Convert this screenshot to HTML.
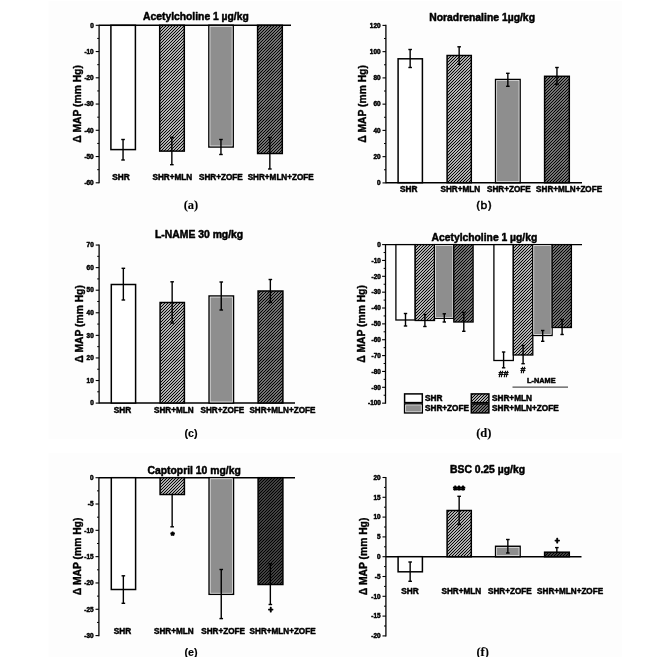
<!DOCTYPE html>
<html><head><meta charset="utf-8"><title>Figure</title>
<style>html,body{margin:0;padding:0;background:#fff}svg{display:block;filter:blur(0.33px)}</style>
</head><body>
<svg width="669" height="657" viewBox="0 0 669 657">
<defs>
<pattern id="h1" width="12" height="12" patternUnits="userSpaceOnUse"><rect width="12" height="12" fill="#ffffff"/><path d="M1.00 -1L-1 1.00M4.00 -1L-1 4.00M7.00 -1L-1 7.00M10.00 -1L-1 10.00M13.00 -1L-1 13.00M16.00 -1L-1 16.00M19.00 -1L-1 19.00M22.00 -1L-1 22.00M25.00 -1L-1 25.00" stroke="#000" stroke-width="1.2" fill="none"/></pattern>
<pattern id="h2" width="12" height="12" patternUnits="userSpaceOnUse"><rect width="12" height="12" fill="#a4a4a4"/><path d="M1.00 -1L-1 1.00M4.00 -1L-1 4.00M7.00 -1L-1 7.00M10.00 -1L-1 10.00M13.00 -1L-1 13.00M16.00 -1L-1 16.00M19.00 -1L-1 19.00M22.00 -1L-1 22.00M25.00 -1L-1 25.00" stroke="#000" stroke-width="1.22" fill="none"/></pattern>
<pattern id="h3" width="12" height="12" patternUnits="userSpaceOnUse"><rect width="12" height="12" fill="#5c5c5c"/><path d="M1.00 -1L-1 1.00M4.00 -1L-1 4.00M7.00 -1L-1 7.00M10.00 -1L-1 10.00M13.00 -1L-1 13.00M16.00 -1L-1 16.00M19.00 -1L-1 19.00M22.00 -1L-1 22.00M25.00 -1L-1 25.00" stroke="#000" stroke-width="1.22" fill="none"/></pattern>
</defs>
<rect width="669" height="657" fill="#fff"/>
<rect x="48.4" y="1" width="573.3" height="437.8" fill="#fdfdfd"/>
<rect x="48.4" y="453" width="573.3" height="204" fill="#fdfdfd"/>

<g id="pa">
<text x="195.9" y="20.2" font-size="10.35" text-anchor="middle" font-family="Liberation Sans, Arial, sans-serif" font-weight="bold" stroke="#000" stroke-linejoin="round" textLength="105.75" lengthAdjust="spacingAndGlyphs"  stroke-width="0.48">Acetylcholine 1 µg/kg</text>
<line x1="99.1" y1="24.740000000000002" x2="99.1" y2="183.36" stroke="#000" stroke-width="1.3"/>
<line x1="95.69999999999999" y1="25.3" x2="99.1" y2="25.3" stroke="#000" stroke-width="1.1"/>
<text x="93.7" y="27.55" font-size="6.4" text-anchor="end" font-family="Liberation Sans, Arial, sans-serif" font-weight="bold" stroke="#000" stroke-linejoin="round"  stroke-width="0.48">0</text>
<line x1="95.69999999999999" y1="51.55" x2="99.1" y2="51.55" stroke="#000" stroke-width="1.1"/>
<text x="93.7" y="53.8" font-size="6.4" text-anchor="end" font-family="Liberation Sans, Arial, sans-serif" font-weight="bold" stroke="#000" stroke-linejoin="round"  stroke-width="0.48">-10</text>
<line x1="95.69999999999999" y1="77.8" x2="99.1" y2="77.8" stroke="#000" stroke-width="1.1"/>
<text x="93.7" y="80.05" font-size="6.4" text-anchor="end" font-family="Liberation Sans, Arial, sans-serif" font-weight="bold" stroke="#000" stroke-linejoin="round"  stroke-width="0.48">-20</text>
<line x1="95.69999999999999" y1="104.05" x2="99.1" y2="104.05" stroke="#000" stroke-width="1.1"/>
<text x="93.7" y="106.3" font-size="6.4" text-anchor="end" font-family="Liberation Sans, Arial, sans-serif" font-weight="bold" stroke="#000" stroke-linejoin="round"  stroke-width="0.48">-30</text>
<line x1="95.69999999999999" y1="130.3" x2="99.1" y2="130.3" stroke="#000" stroke-width="1.1"/>
<text x="93.7" y="132.55" font-size="6.4" text-anchor="end" font-family="Liberation Sans, Arial, sans-serif" font-weight="bold" stroke="#000" stroke-linejoin="round"  stroke-width="0.48">-40</text>
<line x1="95.69999999999999" y1="156.55" x2="99.1" y2="156.55" stroke="#000" stroke-width="1.1"/>
<text x="93.7" y="158.8" font-size="6.4" text-anchor="end" font-family="Liberation Sans, Arial, sans-serif" font-weight="bold" stroke="#000" stroke-linejoin="round"  stroke-width="0.48">-50</text>
<line x1="95.69999999999999" y1="182.8" x2="99.1" y2="182.8" stroke="#000" stroke-width="1.1"/>
<text x="93.7" y="185.05" font-size="6.4" text-anchor="end" font-family="Liberation Sans, Arial, sans-serif" font-weight="bold" stroke="#000" stroke-linejoin="round"  stroke-width="0.48">-60</text>
<line x1="97.19999999999999" y1="38.425" x2="99.1" y2="38.425" stroke="#000" stroke-width="1.0"/>
<line x1="97.19999999999999" y1="64.675" x2="99.1" y2="64.675" stroke="#000" stroke-width="1.0"/>
<line x1="97.19999999999999" y1="90.925" x2="99.1" y2="90.925" stroke="#000" stroke-width="1.0"/>
<line x1="97.19999999999999" y1="117.175" x2="99.1" y2="117.175" stroke="#000" stroke-width="1.0"/>
<line x1="97.19999999999999" y1="143.425" x2="99.1" y2="143.425" stroke="#000" stroke-width="1.0"/>
<line x1="97.19999999999999" y1="169.675" x2="99.1" y2="169.675" stroke="#000" stroke-width="1.0"/>
<line x1="99.1" y1="25.3" x2="291" y2="25.3" stroke="#000" stroke-width="1.4"/>
<rect x="110.90" y="25.3" width="24.50" height="124.30" fill="#fff" stroke="#000" stroke-width="1.5"/>
<line x1="123.05" y1="139.5" x2="123.05" y2="160.0" stroke="#000" stroke-width="1.4"/>
<line x1="121.25" y1="139.5" x2="124.85" y2="139.5" stroke="#000" stroke-width="1.4"/>
<line x1="121.25" y1="160.0" x2="124.85" y2="160.0" stroke="#000" stroke-width="1.4"/>
<rect x="159.70" y="25.3" width="24.60" height="125.80" fill="url(#h1)" stroke="#000" stroke-width="1.5"/>
<line x1="171.85" y1="137.3" x2="171.85" y2="164.7" stroke="#000" stroke-width="1.4"/>
<line x1="170.04999999999998" y1="137.3" x2="173.65" y2="137.3" stroke="#000" stroke-width="1.4"/>
<line x1="170.04999999999998" y1="164.7" x2="173.65" y2="164.7" stroke="#000" stroke-width="1.4"/>
<rect x="208.90" y="25.3" width="24.30" height="121.70" fill="#8e8e8e" stroke="#000" stroke-width="1.5"/>
<rect x="209.95" y="26.35" width="22.20" height="119.60" fill="none" stroke="#ececec" stroke-width="0.75"/>
<line x1="220.95" y1="139.5" x2="220.95" y2="154.5" stroke="#000" stroke-width="1.4"/>
<line x1="219.14999999999998" y1="139.5" x2="222.75" y2="139.5" stroke="#000" stroke-width="1.4"/>
<line x1="219.14999999999998" y1="154.5" x2="222.75" y2="154.5" stroke="#000" stroke-width="1.4"/>
<rect x="257.60" y="25.3" width="24.70" height="128.20" fill="url(#h2)" stroke="#000" stroke-width="1.5"/>
<line x1="269.85" y1="137.5" x2="269.85" y2="169.0" stroke="#000" stroke-width="1.4"/>
<line x1="268.05" y1="137.5" x2="271.65000000000003" y2="137.5" stroke="#000" stroke-width="1.4"/>
<line x1="268.05" y1="169.0" x2="271.65000000000003" y2="169.0" stroke="#000" stroke-width="1.4"/>
<text x="120.9" y="180.1" font-size="8.15" text-anchor="middle" font-family="Liberation Sans, Arial, sans-serif" font-weight="bold" stroke="#000" stroke-linejoin="round" textLength="17.5" lengthAdjust="spacingAndGlyphs"  stroke-width="0.48">SHR</text>
<text x="172.3" y="180.1" font-size="8.15" text-anchor="middle" font-family="Liberation Sans, Arial, sans-serif" font-weight="bold" stroke="#000" stroke-linejoin="round" textLength="39.75" lengthAdjust="spacingAndGlyphs"  stroke-width="0.48">SHR+MLN</text>
<text x="220.9" y="180.1" font-size="8.15" text-anchor="middle" font-family="Liberation Sans, Arial, sans-serif" font-weight="bold" stroke="#000" stroke-linejoin="round" textLength="43.75" lengthAdjust="spacingAndGlyphs"  stroke-width="0.48">SHR+ZOFE</text>
<text x="280.7" y="180.1" font-size="8.15" text-anchor="middle" font-family="Liberation Sans, Arial, sans-serif" font-weight="bold" stroke="#000" stroke-linejoin="round" textLength="66" lengthAdjust="spacingAndGlyphs"  stroke-width="0.48">SHR+MLN+ZOFE</text>
<text transform="translate(81.0,104.0) rotate(-90)" x="0" y="0" font-size="10.2" text-anchor="middle" font-family="Liberation Sans, Arial, sans-serif" font-weight="bold" stroke="#000" stroke-linejoin="round" stroke-width="0.38" textLength="77.7" lengthAdjust="spacingAndGlyphs">Δ MAP (mm Hg)</text>
<text x="191" y="208.5" font-size="12.5" text-anchor="middle" font-family="Liberation Serif, Times New Roman, serif" font-weight="bold" stroke="#000" stroke-width="0.1" >(a)</text>
</g>
<g id="pb">
<text x="482.1" y="20.6" font-size="10.35" text-anchor="middle" font-family="Liberation Sans, Arial, sans-serif" font-weight="bold" stroke="#000" stroke-linejoin="round" textLength="105.75" lengthAdjust="spacingAndGlyphs"  stroke-width="0.48">Noradrenaline 1µg/kg</text>
<line x1="385.9" y1="24.840000000000007" x2="385.9" y2="183.26" stroke="#000" stroke-width="1.3"/>
<line x1="382.5" y1="182.9" x2="385.9" y2="182.9" stroke="#000" stroke-width="1.1"/>
<text x="380.5" y="185.15" font-size="6.4" text-anchor="end" font-family="Liberation Sans, Arial, sans-serif" font-weight="bold" stroke="#000" stroke-linejoin="round"  stroke-width="0.48">0</text>
<line x1="382.5" y1="156.65" x2="385.9" y2="156.65" stroke="#000" stroke-width="1.1"/>
<text x="380.5" y="158.9" font-size="6.4" text-anchor="end" font-family="Liberation Sans, Arial, sans-serif" font-weight="bold" stroke="#000" stroke-linejoin="round"  stroke-width="0.48">20</text>
<line x1="382.5" y1="130.4" x2="385.9" y2="130.4" stroke="#000" stroke-width="1.1"/>
<text x="380.5" y="132.65" font-size="6.4" text-anchor="end" font-family="Liberation Sans, Arial, sans-serif" font-weight="bold" stroke="#000" stroke-linejoin="round"  stroke-width="0.48">40</text>
<line x1="382.5" y1="104.15" x2="385.9" y2="104.15" stroke="#000" stroke-width="1.1"/>
<text x="380.5" y="106.4" font-size="6.4" text-anchor="end" font-family="Liberation Sans, Arial, sans-serif" font-weight="bold" stroke="#000" stroke-linejoin="round"  stroke-width="0.48">60</text>
<line x1="382.5" y1="77.9" x2="385.9" y2="77.9" stroke="#000" stroke-width="1.1"/>
<text x="380.5" y="80.15" font-size="6.4" text-anchor="end" font-family="Liberation Sans, Arial, sans-serif" font-weight="bold" stroke="#000" stroke-linejoin="round"  stroke-width="0.48">80</text>
<line x1="382.5" y1="51.650000000000006" x2="385.9" y2="51.650000000000006" stroke="#000" stroke-width="1.1"/>
<text x="380.5" y="53.9" font-size="6.4" text-anchor="end" font-family="Liberation Sans, Arial, sans-serif" font-weight="bold" stroke="#000" stroke-linejoin="round"  stroke-width="0.48">100</text>
<line x1="382.5" y1="25.400000000000006" x2="385.9" y2="25.400000000000006" stroke="#000" stroke-width="1.1"/>
<text x="380.5" y="27.65" font-size="6.4" text-anchor="end" font-family="Liberation Sans, Arial, sans-serif" font-weight="bold" stroke="#000" stroke-linejoin="round"  stroke-width="0.48">120</text>
<line x1="384.0" y1="169.775" x2="385.9" y2="169.775" stroke="#000" stroke-width="1.0"/>
<line x1="384.0" y1="143.525" x2="385.9" y2="143.525" stroke="#000" stroke-width="1.0"/>
<line x1="384.0" y1="117.275" x2="385.9" y2="117.275" stroke="#000" stroke-width="1.0"/>
<line x1="384.0" y1="91.025" x2="385.9" y2="91.025" stroke="#000" stroke-width="1.0"/>
<line x1="384.0" y1="64.775" x2="385.9" y2="64.775" stroke="#000" stroke-width="1.0"/>
<line x1="384.0" y1="38.525000000000006" x2="385.9" y2="38.525000000000006" stroke="#000" stroke-width="1.0"/>
<line x1="385.9" y1="182.7" x2="582" y2="182.7" stroke="#000" stroke-width="1.4"/>
<rect x="398.10" y="58.8" width="24.30" height="123.90" fill="#fff" stroke="#000" stroke-width="1.5"/>
<line x1="410.15" y1="49.5" x2="410.15" y2="67.5" stroke="#000" stroke-width="1.4"/>
<line x1="408.34999999999997" y1="49.5" x2="411.95" y2="49.5" stroke="#000" stroke-width="1.4"/>
<line x1="408.34999999999997" y1="67.5" x2="411.95" y2="67.5" stroke="#000" stroke-width="1.4"/>
<rect x="447.10" y="55.5" width="24.20" height="127.20" fill="url(#h1)" stroke="#000" stroke-width="1.5"/>
<line x1="459.15" y1="46.8" x2="459.15" y2="64.3" stroke="#000" stroke-width="1.4"/>
<line x1="457.34999999999997" y1="46.8" x2="460.95" y2="46.8" stroke="#000" stroke-width="1.4"/>
<line x1="457.34999999999997" y1="64.3" x2="460.95" y2="64.3" stroke="#000" stroke-width="1.4"/>
<rect x="495.60" y="79.5" width="24.50" height="103.20" fill="#8e8e8e" stroke="#000" stroke-width="1.5"/>
<rect x="496.65" y="80.55" width="22.40" height="101.10" fill="none" stroke="#ececec" stroke-width="0.75"/>
<line x1="507.85" y1="73.3" x2="507.85" y2="86.3" stroke="#000" stroke-width="1.4"/>
<line x1="506.05" y1="73.3" x2="509.65000000000003" y2="73.3" stroke="#000" stroke-width="1.4"/>
<line x1="506.05" y1="86.3" x2="509.65000000000003" y2="86.3" stroke="#000" stroke-width="1.4"/>
<rect x="544.60" y="76.3" width="24.70" height="106.40" fill="url(#h2)" stroke="#000" stroke-width="1.5"/>
<line x1="556.95" y1="67.5" x2="556.95" y2="84.5" stroke="#000" stroke-width="1.4"/>
<line x1="555.1500000000001" y1="67.5" x2="558.75" y2="67.5" stroke="#000" stroke-width="1.4"/>
<line x1="555.1500000000001" y1="84.5" x2="558.75" y2="84.5" stroke="#000" stroke-width="1.4"/>
<text x="408.8" y="192.2" font-size="8.15" text-anchor="middle" font-family="Liberation Sans, Arial, sans-serif" font-weight="bold" stroke="#000" stroke-linejoin="round" textLength="17.5" lengthAdjust="spacingAndGlyphs"  stroke-width="0.48">SHR</text>
<text x="460.3" y="192.2" font-size="8.15" text-anchor="middle" font-family="Liberation Sans, Arial, sans-serif" font-weight="bold" stroke="#000" stroke-linejoin="round" textLength="39.75" lengthAdjust="spacingAndGlyphs"  stroke-width="0.48">SHR+MLN</text>
<text x="508.9" y="192.2" font-size="8.15" text-anchor="middle" font-family="Liberation Sans, Arial, sans-serif" font-weight="bold" stroke="#000" stroke-linejoin="round" textLength="43.75" lengthAdjust="spacingAndGlyphs"  stroke-width="0.48">SHR+ZOFE</text>
<text x="569.1" y="192.2" font-size="8.15" text-anchor="middle" font-family="Liberation Sans, Arial, sans-serif" font-weight="bold" stroke="#000" stroke-linejoin="round" textLength="66" lengthAdjust="spacingAndGlyphs"  stroke-width="0.48">SHR+MLN+ZOFE</text>
<text transform="translate(366.0,104.0) rotate(-90)" x="0" y="0" font-size="10.2" text-anchor="middle" font-family="Liberation Sans, Arial, sans-serif" font-weight="bold" stroke="#000" stroke-linejoin="round" stroke-width="0.38" textLength="77.7" lengthAdjust="spacingAndGlyphs">Δ MAP (mm Hg)</text>
<text x="483.9" y="208.6" font-size="11.3" text-anchor="middle" font-family="DejaVu Sans, Verdana, sans-serif" stroke="#000" stroke-width="0.5" >(b)</text>
</g>
<g id="pc">
<text x="199.1" y="238.4" font-size="10.35" text-anchor="middle" font-family="Liberation Sans, Arial, sans-serif" font-weight="bold" stroke="#000" stroke-linejoin="round" textLength="88.25" lengthAdjust="spacingAndGlyphs"  stroke-width="0.48">L-NAME 30 mg/kg</text>
<line x1="99.1" y1="244.48000000000002" x2="99.1" y2="403.56" stroke="#000" stroke-width="1.3"/>
<line x1="95.69999999999999" y1="403.1" x2="99.1" y2="403.1" stroke="#000" stroke-width="1.1"/>
<text x="93.7" y="405.35" font-size="6.4" text-anchor="end" font-family="Liberation Sans, Arial, sans-serif" font-weight="bold" stroke="#000" stroke-linejoin="round"  stroke-width="0.48">0</text>
<line x1="95.69999999999999" y1="380.52000000000004" x2="99.1" y2="380.52000000000004" stroke="#000" stroke-width="1.1"/>
<text x="93.7" y="382.77" font-size="6.4" text-anchor="end" font-family="Liberation Sans, Arial, sans-serif" font-weight="bold" stroke="#000" stroke-linejoin="round"  stroke-width="0.48">10</text>
<line x1="95.69999999999999" y1="357.94000000000005" x2="99.1" y2="357.94000000000005" stroke="#000" stroke-width="1.1"/>
<text x="93.7" y="360.19" font-size="6.4" text-anchor="end" font-family="Liberation Sans, Arial, sans-serif" font-weight="bold" stroke="#000" stroke-linejoin="round"  stroke-width="0.48">20</text>
<line x1="95.69999999999999" y1="335.36" x2="99.1" y2="335.36" stroke="#000" stroke-width="1.1"/>
<text x="93.7" y="337.61" font-size="6.4" text-anchor="end" font-family="Liberation Sans, Arial, sans-serif" font-weight="bold" stroke="#000" stroke-linejoin="round"  stroke-width="0.48">30</text>
<line x1="95.69999999999999" y1="312.78000000000003" x2="99.1" y2="312.78000000000003" stroke="#000" stroke-width="1.1"/>
<text x="93.7" y="315.03" font-size="6.4" text-anchor="end" font-family="Liberation Sans, Arial, sans-serif" font-weight="bold" stroke="#000" stroke-linejoin="round"  stroke-width="0.48">40</text>
<line x1="95.69999999999999" y1="290.20000000000005" x2="99.1" y2="290.20000000000005" stroke="#000" stroke-width="1.1"/>
<text x="93.7" y="292.45" font-size="6.4" text-anchor="end" font-family="Liberation Sans, Arial, sans-serif" font-weight="bold" stroke="#000" stroke-linejoin="round"  stroke-width="0.48">50</text>
<line x1="95.69999999999999" y1="267.62" x2="99.1" y2="267.62" stroke="#000" stroke-width="1.1"/>
<text x="93.7" y="269.87" font-size="6.4" text-anchor="end" font-family="Liberation Sans, Arial, sans-serif" font-weight="bold" stroke="#000" stroke-linejoin="round"  stroke-width="0.48">60</text>
<line x1="95.69999999999999" y1="245.04000000000002" x2="99.1" y2="245.04000000000002" stroke="#000" stroke-width="1.1"/>
<text x="93.7" y="247.29" font-size="6.4" text-anchor="end" font-family="Liberation Sans, Arial, sans-serif" font-weight="bold" stroke="#000" stroke-linejoin="round"  stroke-width="0.48">70</text>
<line x1="97.19999999999999" y1="391.81" x2="99.1" y2="391.81" stroke="#000" stroke-width="1.0"/>
<line x1="97.19999999999999" y1="369.23" x2="99.1" y2="369.23" stroke="#000" stroke-width="1.0"/>
<line x1="97.19999999999999" y1="346.65000000000003" x2="99.1" y2="346.65000000000003" stroke="#000" stroke-width="1.0"/>
<line x1="97.19999999999999" y1="324.07000000000005" x2="99.1" y2="324.07000000000005" stroke="#000" stroke-width="1.0"/>
<line x1="97.19999999999999" y1="301.49" x2="99.1" y2="301.49" stroke="#000" stroke-width="1.0"/>
<line x1="97.19999999999999" y1="278.91" x2="99.1" y2="278.91" stroke="#000" stroke-width="1.0"/>
<line x1="97.19999999999999" y1="256.33000000000004" x2="99.1" y2="256.33000000000004" stroke="#000" stroke-width="1.0"/>
<line x1="99.1" y1="403.0" x2="295" y2="403.0" stroke="#000" stroke-width="1.4"/>
<rect x="111.30" y="284.5" width="24.30" height="118.50" fill="#fff" stroke="#000" stroke-width="1.5"/>
<line x1="123.35" y1="268.3" x2="123.35" y2="300.0" stroke="#000" stroke-width="1.4"/>
<line x1="121.55" y1="268.3" x2="125.14999999999999" y2="268.3" stroke="#000" stroke-width="1.4"/>
<line x1="121.55" y1="300.0" x2="125.14999999999999" y2="300.0" stroke="#000" stroke-width="1.4"/>
<rect x="160.10" y="302.5" width="24.30" height="100.50" fill="url(#h1)" stroke="#000" stroke-width="1.5"/>
<line x1="172.15" y1="281.8" x2="172.15" y2="323.0" stroke="#000" stroke-width="1.4"/>
<line x1="170.35" y1="281.8" x2="173.95000000000002" y2="281.8" stroke="#000" stroke-width="1.4"/>
<line x1="170.35" y1="323.0" x2="173.95000000000002" y2="323.0" stroke="#000" stroke-width="1.4"/>
<rect x="209.10" y="296.0" width="24.40" height="107.00" fill="#8e8e8e" stroke="#000" stroke-width="1.5"/>
<rect x="210.15" y="297.05" width="22.30" height="104.90" fill="none" stroke="#ececec" stroke-width="0.75"/>
<line x1="221.25" y1="282.0" x2="221.25" y2="310.0" stroke="#000" stroke-width="1.4"/>
<line x1="219.45" y1="282.0" x2="223.05" y2="282.0" stroke="#000" stroke-width="1.4"/>
<line x1="219.45" y1="310.0" x2="223.05" y2="310.0" stroke="#000" stroke-width="1.4"/>
<rect x="258.10" y="291.0" width="24.80" height="112.00" fill="url(#h2)" stroke="#000" stroke-width="1.5"/>
<line x1="270.35" y1="279.5" x2="270.35" y2="302.5" stroke="#000" stroke-width="1.4"/>
<line x1="268.55" y1="279.5" x2="272.15000000000003" y2="279.5" stroke="#000" stroke-width="1.4"/>
<line x1="268.55" y1="302.5" x2="272.15000000000003" y2="302.5" stroke="#000" stroke-width="1.4"/>
<text x="122.5" y="412.6" font-size="8.15" text-anchor="middle" font-family="Liberation Sans, Arial, sans-serif" font-weight="bold" stroke="#000" stroke-linejoin="round" textLength="17.5" lengthAdjust="spacingAndGlyphs"  stroke-width="0.48">SHR</text>
<text x="173.8" y="412.6" font-size="8.15" text-anchor="middle" font-family="Liberation Sans, Arial, sans-serif" font-weight="bold" stroke="#000" stroke-linejoin="round" textLength="39.75" lengthAdjust="spacingAndGlyphs"  stroke-width="0.48">SHR+MLN</text>
<text x="222.4" y="412.6" font-size="8.15" text-anchor="middle" font-family="Liberation Sans, Arial, sans-serif" font-weight="bold" stroke="#000" stroke-linejoin="round" textLength="43.75" lengthAdjust="spacingAndGlyphs"  stroke-width="0.48">SHR+ZOFE</text>
<text x="282.4" y="412.6" font-size="8.15" text-anchor="middle" font-family="Liberation Sans, Arial, sans-serif" font-weight="bold" stroke="#000" stroke-linejoin="round" textLength="66" lengthAdjust="spacingAndGlyphs"  stroke-width="0.48">SHR+MLN+ZOFE</text>
<text transform="translate(82.6,324.0) rotate(-90)" x="0" y="0" font-size="10.2" text-anchor="middle" font-family="Liberation Sans, Arial, sans-serif" font-weight="bold" stroke="#000" stroke-linejoin="round" stroke-width="0.38" textLength="77.7" lengthAdjust="spacingAndGlyphs">Δ MAP (mm Hg)</text>
<text x="191.0" y="436.8" font-size="10.8" text-anchor="middle" font-family="Liberation Sans, Arial, sans-serif" font-weight="bold" stroke="#000" stroke-linejoin="round"  stroke-width="0.12">(c)</text>
</g>
<g id="pd">
<text x="484.4" y="241.3" font-size="10.35" text-anchor="middle" font-family="Liberation Sans, Arial, sans-serif" font-weight="bold" stroke="#000" stroke-linejoin="round" textLength="105.75" lengthAdjust="spacingAndGlyphs"  stroke-width="0.48">Acetylcholine 1 µg/kg</text>
<line x1="385.5" y1="244.04" x2="385.5" y2="403.71" stroke="#000" stroke-width="1.3"/>
<line x1="382.1" y1="244.6" x2="385.5" y2="244.6" stroke="#000" stroke-width="1.1"/>
<text x="380.8" y="246.85" font-size="6.4" text-anchor="end" font-family="Liberation Sans, Arial, sans-serif" font-weight="bold" stroke="#000" stroke-linejoin="round"  stroke-width="0.48">0</text>
<line x1="382.1" y1="260.455" x2="385.5" y2="260.455" stroke="#000" stroke-width="1.1"/>
<text x="380.8" y="262.7" font-size="6.4" text-anchor="end" font-family="Liberation Sans, Arial, sans-serif" font-weight="bold" stroke="#000" stroke-linejoin="round"  stroke-width="0.48">-10</text>
<line x1="382.1" y1="276.31" x2="385.5" y2="276.31" stroke="#000" stroke-width="1.1"/>
<text x="380.8" y="278.56" font-size="6.4" text-anchor="end" font-family="Liberation Sans, Arial, sans-serif" font-weight="bold" stroke="#000" stroke-linejoin="round"  stroke-width="0.48">-20</text>
<line x1="382.1" y1="292.16499999999996" x2="385.5" y2="292.16499999999996" stroke="#000" stroke-width="1.1"/>
<text x="380.8" y="294.41" font-size="6.4" text-anchor="end" font-family="Liberation Sans, Arial, sans-serif" font-weight="bold" stroke="#000" stroke-linejoin="round"  stroke-width="0.48">-30</text>
<line x1="382.1" y1="308.02" x2="385.5" y2="308.02" stroke="#000" stroke-width="1.1"/>
<text x="380.8" y="310.27" font-size="6.4" text-anchor="end" font-family="Liberation Sans, Arial, sans-serif" font-weight="bold" stroke="#000" stroke-linejoin="round"  stroke-width="0.48">-40</text>
<line x1="382.1" y1="323.875" x2="385.5" y2="323.875" stroke="#000" stroke-width="1.1"/>
<text x="380.8" y="326.12" font-size="6.4" text-anchor="end" font-family="Liberation Sans, Arial, sans-serif" font-weight="bold" stroke="#000" stroke-linejoin="round"  stroke-width="0.48">-50</text>
<line x1="382.1" y1="339.73" x2="385.5" y2="339.73" stroke="#000" stroke-width="1.1"/>
<text x="380.8" y="341.98" font-size="6.4" text-anchor="end" font-family="Liberation Sans, Arial, sans-serif" font-weight="bold" stroke="#000" stroke-linejoin="round"  stroke-width="0.48">-60</text>
<line x1="382.1" y1="355.585" x2="385.5" y2="355.585" stroke="#000" stroke-width="1.1"/>
<text x="380.8" y="357.83" font-size="6.4" text-anchor="end" font-family="Liberation Sans, Arial, sans-serif" font-weight="bold" stroke="#000" stroke-linejoin="round"  stroke-width="0.48">-70</text>
<line x1="382.1" y1="371.44" x2="385.5" y2="371.44" stroke="#000" stroke-width="1.1"/>
<text x="380.8" y="373.69" font-size="6.4" text-anchor="end" font-family="Liberation Sans, Arial, sans-serif" font-weight="bold" stroke="#000" stroke-linejoin="round"  stroke-width="0.48">-80</text>
<line x1="382.1" y1="387.29499999999996" x2="385.5" y2="387.29499999999996" stroke="#000" stroke-width="1.1"/>
<text x="380.8" y="389.54" font-size="6.4" text-anchor="end" font-family="Liberation Sans, Arial, sans-serif" font-weight="bold" stroke="#000" stroke-linejoin="round"  stroke-width="0.48">-90</text>
<line x1="382.1" y1="403.15" x2="385.5" y2="403.15" stroke="#000" stroke-width="1.1"/>
<text x="380.8" y="405.4" font-size="6.4" text-anchor="end" font-family="Liberation Sans, Arial, sans-serif" font-weight="bold" stroke="#000" stroke-linejoin="round"  stroke-width="0.48">-100</text>
<line x1="383.6" y1="252.5275" x2="385.5" y2="252.5275" stroke="#000" stroke-width="1.0"/>
<line x1="383.6" y1="268.3825" x2="385.5" y2="268.3825" stroke="#000" stroke-width="1.0"/>
<line x1="383.6" y1="284.2375" x2="385.5" y2="284.2375" stroke="#000" stroke-width="1.0"/>
<line x1="383.6" y1="300.0925" x2="385.5" y2="300.0925" stroke="#000" stroke-width="1.0"/>
<line x1="383.6" y1="315.9475" x2="385.5" y2="315.9475" stroke="#000" stroke-width="1.0"/>
<line x1="383.6" y1="331.8025" x2="385.5" y2="331.8025" stroke="#000" stroke-width="1.0"/>
<line x1="383.6" y1="347.65749999999997" x2="385.5" y2="347.65749999999997" stroke="#000" stroke-width="1.0"/>
<line x1="383.6" y1="363.5125" x2="385.5" y2="363.5125" stroke="#000" stroke-width="1.0"/>
<line x1="383.6" y1="379.36749999999995" x2="385.5" y2="379.36749999999995" stroke="#000" stroke-width="1.0"/>
<line x1="383.6" y1="395.22249999999997" x2="385.5" y2="395.22249999999997" stroke="#000" stroke-width="1.0"/>
<line x1="385.5" y1="244.6" x2="582" y2="244.6" stroke="#000" stroke-width="1.4"/>
<rect x="395.90" y="244.6" width="19.30" height="75.40" fill="#fff" stroke="#000" stroke-width="1.3"/>
<line x1="405.5" y1="313.5" x2="405.5" y2="326.0" stroke="#000" stroke-width="1.4"/>
<line x1="403.8" y1="313.5" x2="407.2" y2="313.5" stroke="#000" stroke-width="1.4"/>
<line x1="403.8" y1="326.0" x2="407.2" y2="326.0" stroke="#000" stroke-width="1.4"/>
<rect x="415.20" y="244.6" width="19.30" height="75.90" fill="url(#h1)" stroke="#000" stroke-width="1.3"/>
<line x1="424.9" y1="314.5" x2="424.9" y2="326.5" stroke="#000" stroke-width="1.4"/>
<line x1="423.2" y1="314.5" x2="426.59999999999997" y2="314.5" stroke="#000" stroke-width="1.4"/>
<line x1="423.2" y1="326.5" x2="426.59999999999997" y2="326.5" stroke="#000" stroke-width="1.4"/>
<rect x="434.50" y="244.6" width="19.30" height="73.70" fill="#8e8e8e" stroke="#000" stroke-width="1.3"/>
<rect x="435.45" y="245.55" width="17.40" height="71.80" fill="none" stroke="#ececec" stroke-width="0.75"/>
<line x1="444.3" y1="313.8" x2="444.3" y2="322.0" stroke="#000" stroke-width="1.4"/>
<line x1="442.6" y1="313.8" x2="446.0" y2="313.8" stroke="#000" stroke-width="1.4"/>
<line x1="442.6" y1="322.0" x2="446.0" y2="322.0" stroke="#000" stroke-width="1.4"/>
<rect x="453.80" y="244.6" width="19.30" height="77.40" fill="url(#h2)" stroke="#000" stroke-width="1.3"/>
<line x1="463.8" y1="312.5" x2="463.8" y2="331.3" stroke="#000" stroke-width="1.4"/>
<line x1="462.1" y1="312.5" x2="465.5" y2="312.5" stroke="#000" stroke-width="1.4"/>
<line x1="462.1" y1="331.3" x2="465.5" y2="331.3" stroke="#000" stroke-width="1.4"/>
<rect x="493.90" y="244.6" width="19.40" height="115.90" fill="#fff" stroke="#000" stroke-width="1.3"/>
<line x1="503.6" y1="352.0" x2="503.6" y2="367.8" stroke="#000" stroke-width="1.4"/>
<line x1="501.90000000000003" y1="352.0" x2="505.3" y2="352.0" stroke="#000" stroke-width="1.4"/>
<line x1="501.90000000000003" y1="367.8" x2="505.3" y2="367.8" stroke="#000" stroke-width="1.4"/>
<rect x="513.30" y="244.6" width="19.50" height="110.40" fill="url(#h1)" stroke="#000" stroke-width="1.3"/>
<line x1="523.1" y1="345.5" x2="523.1" y2="363.7" stroke="#000" stroke-width="1.4"/>
<line x1="521.4" y1="345.5" x2="524.8000000000001" y2="345.5" stroke="#000" stroke-width="1.4"/>
<line x1="521.4" y1="363.7" x2="524.8000000000001" y2="363.7" stroke="#000" stroke-width="1.4"/>
<rect x="532.80" y="244.6" width="19.30" height="90.90" fill="#8e8e8e" stroke="#000" stroke-width="1.3"/>
<rect x="533.75" y="245.55" width="17.40" height="89.00" fill="none" stroke="#ececec" stroke-width="0.75"/>
<line x1="542.7" y1="330.5" x2="542.7" y2="341.3" stroke="#000" stroke-width="1.4"/>
<line x1="541.0" y1="330.5" x2="544.4000000000001" y2="330.5" stroke="#000" stroke-width="1.4"/>
<line x1="541.0" y1="341.3" x2="544.4000000000001" y2="341.3" stroke="#000" stroke-width="1.4"/>
<rect x="552.10" y="244.6" width="19.30" height="82.90" fill="url(#h2)" stroke="#000" stroke-width="1.3"/>
<line x1="562.1" y1="319.5" x2="562.1" y2="334.5" stroke="#000" stroke-width="1.4"/>
<line x1="560.4" y1="319.5" x2="563.8000000000001" y2="319.5" stroke="#000" stroke-width="1.4"/>
<line x1="560.4" y1="334.5" x2="563.8000000000001" y2="334.5" stroke="#000" stroke-width="1.4"/>
<text x="503.5" y="376.9" font-size="9" text-anchor="middle" font-family="Liberation Sans, Arial, sans-serif" font-weight="bold" stroke="#000" stroke-linejoin="round"  stroke-width="0.5">##</text>
<text x="523.1" y="372.6" font-size="9" text-anchor="middle" font-family="Liberation Sans, Arial, sans-serif" font-weight="bold" stroke="#000" stroke-linejoin="round"  stroke-width="0.5">#</text>
<text x="541.3" y="383.3" font-size="7.3" text-anchor="middle" font-family="Liberation Sans, Arial, sans-serif" font-weight="bold" stroke="#000" stroke-linejoin="round" textLength="28.5" lengthAdjust="spacingAndGlyphs"  stroke-width="0.48">L-NAME</text>
<line x1="512.5" y1="387.1" x2="568" y2="387.1" stroke="#505050" stroke-width="1.25"/>
<rect x="404.60" y="393.9" width="17.70" height="8.70" fill="#fff" stroke="#000" stroke-width="1.5"/>
<rect x="404.60" y="403.9" width="17.70" height="9.00" fill="#8e8e8e" stroke="#000" stroke-width="1.5"/>
<rect x="405.65" y="404.95" width="15.60" height="6.90" fill="none" stroke="#ececec" stroke-width="0.75"/>
<rect x="471.30" y="393.9" width="17.60" height="8.70" fill="url(#h1)" stroke="#000" stroke-width="1.5"/>
<rect x="471.30" y="403.9" width="17.60" height="9.00" fill="url(#h2)" stroke="#000" stroke-width="1.5"/>
<text x="425.0" y="401.3" font-size="8.15" text-anchor="start" font-family="Liberation Sans, Arial, sans-serif" font-weight="bold" stroke="#000" stroke-linejoin="round" textLength="17.5" lengthAdjust="spacingAndGlyphs"  stroke-width="0.48">SHR</text>
<text x="425.0" y="411.3" font-size="8.15" text-anchor="start" font-family="Liberation Sans, Arial, sans-serif" font-weight="bold" stroke="#000" stroke-linejoin="round" textLength="44" lengthAdjust="spacingAndGlyphs"  stroke-width="0.48">SHR+ZOFE</text>
<text x="492.0" y="401.3" font-size="8.15" text-anchor="start" font-family="Liberation Sans, Arial, sans-serif" font-weight="bold" stroke="#000" stroke-linejoin="round" textLength="40" lengthAdjust="spacingAndGlyphs"  stroke-width="0.48">SHR+MLN</text>
<text x="492.0" y="411.3" font-size="8.15" text-anchor="start" font-family="Liberation Sans, Arial, sans-serif" font-weight="bold" stroke="#000" stroke-linejoin="round" textLength="66.7" lengthAdjust="spacingAndGlyphs"  stroke-width="0.48">SHR+MLN+ZOFE</text>
<text transform="translate(365.2,324.0) rotate(-90)" x="0" y="0" font-size="10.2" text-anchor="middle" font-family="Liberation Sans, Arial, sans-serif" font-weight="bold" stroke="#000" stroke-linejoin="round" stroke-width="0.38" textLength="77.7" lengthAdjust="spacingAndGlyphs">Δ MAP (mm Hg)</text>
<text x="483.8" y="436.8" font-size="12.5" text-anchor="middle" font-family="Liberation Serif, Times New Roman, serif" font-weight="bold" stroke="#000" stroke-width="0.1" >(d)</text>
</g>
<g id="pe">
<text x="194.1" y="473.8" font-size="10.35" text-anchor="middle" font-family="Liberation Sans, Arial, sans-serif" font-weight="bold" stroke="#000" stroke-linejoin="round" textLength="93.25" lengthAdjust="spacingAndGlyphs"  stroke-width="0.48">Captopril 10 mg/kg</text>
<line x1="98.9" y1="477.14" x2="98.9" y2="636.1499999999999" stroke="#000" stroke-width="1.3"/>
<line x1="95.5" y1="477.7" x2="98.9" y2="477.7" stroke="#000" stroke-width="1.1"/>
<text x="93.5" y="479.95" font-size="6.4" text-anchor="end" font-family="Liberation Sans, Arial, sans-serif" font-weight="bold" stroke="#000" stroke-linejoin="round"  stroke-width="0.48">0</text>
<line x1="95.5" y1="504.015" x2="98.9" y2="504.015" stroke="#000" stroke-width="1.1"/>
<text x="93.5" y="506.26" font-size="6.4" text-anchor="end" font-family="Liberation Sans, Arial, sans-serif" font-weight="bold" stroke="#000" stroke-linejoin="round"  stroke-width="0.48">-5</text>
<line x1="95.5" y1="530.3299999999999" x2="98.9" y2="530.3299999999999" stroke="#000" stroke-width="1.1"/>
<text x="93.5" y="532.58" font-size="6.4" text-anchor="end" font-family="Liberation Sans, Arial, sans-serif" font-weight="bold" stroke="#000" stroke-linejoin="round"  stroke-width="0.48">-10</text>
<line x1="95.5" y1="556.645" x2="98.9" y2="556.645" stroke="#000" stroke-width="1.1"/>
<text x="93.5" y="558.89" font-size="6.4" text-anchor="end" font-family="Liberation Sans, Arial, sans-serif" font-weight="bold" stroke="#000" stroke-linejoin="round"  stroke-width="0.48">-15</text>
<line x1="95.5" y1="582.96" x2="98.9" y2="582.96" stroke="#000" stroke-width="1.1"/>
<text x="93.5" y="585.21" font-size="6.4" text-anchor="end" font-family="Liberation Sans, Arial, sans-serif" font-weight="bold" stroke="#000" stroke-linejoin="round"  stroke-width="0.48">-20</text>
<line x1="95.5" y1="609.275" x2="98.9" y2="609.275" stroke="#000" stroke-width="1.1"/>
<text x="93.5" y="611.52" font-size="6.4" text-anchor="end" font-family="Liberation Sans, Arial, sans-serif" font-weight="bold" stroke="#000" stroke-linejoin="round"  stroke-width="0.48">-25</text>
<line x1="95.5" y1="635.5899999999999" x2="98.9" y2="635.5899999999999" stroke="#000" stroke-width="1.1"/>
<text x="93.5" y="637.84" font-size="6.4" text-anchor="end" font-family="Liberation Sans, Arial, sans-serif" font-weight="bold" stroke="#000" stroke-linejoin="round"  stroke-width="0.48">-30</text>
<line x1="97.0" y1="490.85749999999996" x2="98.9" y2="490.85749999999996" stroke="#000" stroke-width="1.0"/>
<line x1="97.0" y1="517.1725" x2="98.9" y2="517.1725" stroke="#000" stroke-width="1.0"/>
<line x1="97.0" y1="543.4875" x2="98.9" y2="543.4875" stroke="#000" stroke-width="1.0"/>
<line x1="97.0" y1="569.8025" x2="98.9" y2="569.8025" stroke="#000" stroke-width="1.0"/>
<line x1="97.0" y1="596.1175" x2="98.9" y2="596.1175" stroke="#000" stroke-width="1.0"/>
<line x1="97.0" y1="622.4325" x2="98.9" y2="622.4325" stroke="#000" stroke-width="1.0"/>
<line x1="98.9" y1="477.7" x2="295" y2="477.7" stroke="#000" stroke-width="1.4"/>
<rect x="111.30" y="477.7" width="24.30" height="111.80" fill="#fff" stroke="#000" stroke-width="1.5"/>
<line x1="123.35" y1="575.8" x2="123.35" y2="603.3" stroke="#000" stroke-width="1.4"/>
<line x1="121.55" y1="575.8" x2="125.14999999999999" y2="575.8" stroke="#000" stroke-width="1.4"/>
<line x1="121.55" y1="603.3" x2="125.14999999999999" y2="603.3" stroke="#000" stroke-width="1.4"/>
<rect x="160.10" y="477.7" width="24.30" height="16.80" fill="url(#h1)" stroke="#000" stroke-width="1.5"/>
<line x1="172.15" y1="494.5" x2="172.15" y2="526.8" stroke="#000" stroke-width="1.4"/>
<line x1="170.35" y1="526.8" x2="173.95000000000002" y2="526.8" stroke="#000" stroke-width="1.4"/>
<rect x="209.10" y="477.7" width="24.40" height="116.60" fill="#8e8e8e" stroke="#000" stroke-width="1.5"/>
<rect x="210.15" y="478.75" width="22.30" height="114.50" fill="none" stroke="#ececec" stroke-width="0.75"/>
<line x1="221.25" y1="569.5" x2="221.25" y2="618.6" stroke="#000" stroke-width="1.4"/>
<line x1="219.45" y1="569.5" x2="223.05" y2="569.5" stroke="#000" stroke-width="1.4"/>
<line x1="219.45" y1="618.6" x2="223.05" y2="618.6" stroke="#000" stroke-width="1.4"/>
<rect x="258.10" y="477.7" width="24.80" height="106.80" fill="url(#h3)" stroke="#000" stroke-width="1.5"/>
<line x1="270.35" y1="563.8" x2="270.35" y2="604.5" stroke="#000" stroke-width="1.4"/>
<line x1="268.55" y1="563.8" x2="272.15000000000003" y2="563.8" stroke="#000" stroke-width="1.4"/>
<line x1="268.55" y1="604.5" x2="272.15000000000003" y2="604.5" stroke="#000" stroke-width="1.4"/>
<text x="172.5" y="537.9" font-size="9.5" text-anchor="middle" font-family="Liberation Sans, Arial, sans-serif" font-weight="bold" stroke="#000" stroke-linejoin="round"  stroke-width="1.0">*</text>
<text x="270.8" y="612.6" font-size="8.5" text-anchor="middle" font-family="Liberation Sans, Arial, sans-serif" font-weight="bold" stroke="#000" stroke-linejoin="round"  stroke-width="0.9">+</text>
<text x="122.5" y="633.5" font-size="8.15" text-anchor="middle" font-family="Liberation Sans, Arial, sans-serif" font-weight="bold" stroke="#000" stroke-linejoin="round" textLength="17.5" lengthAdjust="spacingAndGlyphs"  stroke-width="0.48">SHR</text>
<text x="173.8" y="633.5" font-size="8.15" text-anchor="middle" font-family="Liberation Sans, Arial, sans-serif" font-weight="bold" stroke="#000" stroke-linejoin="round" textLength="39.75" lengthAdjust="spacingAndGlyphs"  stroke-width="0.48">SHR+MLN</text>
<text x="223.1" y="633.5" font-size="8.15" text-anchor="middle" font-family="Liberation Sans, Arial, sans-serif" font-weight="bold" stroke="#000" stroke-linejoin="round" textLength="43.75" lengthAdjust="spacingAndGlyphs"  stroke-width="0.48">SHR+ZOFE</text>
<text x="282.6" y="633.5" font-size="8.15" text-anchor="middle" font-family="Liberation Sans, Arial, sans-serif" font-weight="bold" stroke="#000" stroke-linejoin="round" textLength="66" lengthAdjust="spacingAndGlyphs"  stroke-width="0.48">SHR+MLN+ZOFE</text>
<text transform="translate(80.6,556.5) rotate(-90)" x="0" y="0" font-size="10.2" text-anchor="middle" font-family="Liberation Sans, Arial, sans-serif" font-weight="bold" stroke="#000" stroke-linejoin="round" stroke-width="0.38" textLength="77.7" lengthAdjust="spacingAndGlyphs">Δ MAP (mm Hg)</text>
<text x="191.0" y="656.0" font-size="10.8" text-anchor="middle" font-family="Liberation Sans, Arial, sans-serif" font-weight="bold" stroke="#000" stroke-linejoin="round"  stroke-width="0.12">(e)</text>
</g>
<g id="pf">
<text x="487.5" y="472.6" font-size="10.35" text-anchor="middle" font-family="Liberation Sans, Arial, sans-serif" font-weight="bold" stroke="#000" stroke-linejoin="round" textLength="75" lengthAdjust="spacingAndGlyphs"  stroke-width="0.48">BSC 0.25 µg/kg</text>
<line x1="385.9" y1="476.94000000000005" x2="385.9" y2="636.46" stroke="#000" stroke-width="1.3"/>
<line x1="382.5" y1="477.50000000000006" x2="385.9" y2="477.50000000000006" stroke="#000" stroke-width="1.1"/>
<text x="380.5" y="479.75" font-size="6.4" text-anchor="end" font-family="Liberation Sans, Arial, sans-serif" font-weight="bold" stroke="#000" stroke-linejoin="round"  stroke-width="0.48">20</text>
<line x1="382.5" y1="497.30000000000007" x2="385.9" y2="497.30000000000007" stroke="#000" stroke-width="1.1"/>
<text x="380.5" y="499.55" font-size="6.4" text-anchor="end" font-family="Liberation Sans, Arial, sans-serif" font-weight="bold" stroke="#000" stroke-linejoin="round"  stroke-width="0.48">15</text>
<line x1="382.5" y1="517.1" x2="385.9" y2="517.1" stroke="#000" stroke-width="1.1"/>
<text x="380.5" y="519.35" font-size="6.4" text-anchor="end" font-family="Liberation Sans, Arial, sans-serif" font-weight="bold" stroke="#000" stroke-linejoin="round"  stroke-width="0.48">10</text>
<line x1="382.5" y1="536.9000000000001" x2="385.9" y2="536.9000000000001" stroke="#000" stroke-width="1.1"/>
<text x="380.5" y="539.15" font-size="6.4" text-anchor="end" font-family="Liberation Sans, Arial, sans-serif" font-weight="bold" stroke="#000" stroke-linejoin="round"  stroke-width="0.48">5</text>
<line x1="382.5" y1="556.7" x2="385.9" y2="556.7" stroke="#000" stroke-width="1.1"/>
<text x="380.5" y="558.95" font-size="6.4" text-anchor="end" font-family="Liberation Sans, Arial, sans-serif" font-weight="bold" stroke="#000" stroke-linejoin="round"  stroke-width="0.48">0</text>
<line x1="382.5" y1="576.5" x2="385.9" y2="576.5" stroke="#000" stroke-width="1.1"/>
<text x="380.5" y="578.75" font-size="6.4" text-anchor="end" font-family="Liberation Sans, Arial, sans-serif" font-weight="bold" stroke="#000" stroke-linejoin="round"  stroke-width="0.48">-5</text>
<line x1="382.5" y1="596.3000000000001" x2="385.9" y2="596.3000000000001" stroke="#000" stroke-width="1.1"/>
<text x="380.5" y="598.55" font-size="6.4" text-anchor="end" font-family="Liberation Sans, Arial, sans-serif" font-weight="bold" stroke="#000" stroke-linejoin="round"  stroke-width="0.48">-10</text>
<line x1="382.5" y1="616.1" x2="385.9" y2="616.1" stroke="#000" stroke-width="1.1"/>
<text x="380.5" y="618.35" font-size="6.4" text-anchor="end" font-family="Liberation Sans, Arial, sans-serif" font-weight="bold" stroke="#000" stroke-linejoin="round"  stroke-width="0.48">-15</text>
<line x1="382.5" y1="635.9000000000001" x2="385.9" y2="635.9000000000001" stroke="#000" stroke-width="1.1"/>
<text x="380.5" y="638.15" font-size="6.4" text-anchor="end" font-family="Liberation Sans, Arial, sans-serif" font-weight="bold" stroke="#000" stroke-linejoin="round"  stroke-width="0.48">-20</text>
<line x1="384.0" y1="487.40000000000003" x2="385.9" y2="487.40000000000003" stroke="#000" stroke-width="1.0"/>
<line x1="384.0" y1="507.20000000000005" x2="385.9" y2="507.20000000000005" stroke="#000" stroke-width="1.0"/>
<line x1="384.0" y1="527.0" x2="385.9" y2="527.0" stroke="#000" stroke-width="1.0"/>
<line x1="384.0" y1="546.8000000000001" x2="385.9" y2="546.8000000000001" stroke="#000" stroke-width="1.0"/>
<line x1="384.0" y1="566.6" x2="385.9" y2="566.6" stroke="#000" stroke-width="1.0"/>
<line x1="384.0" y1="586.4000000000001" x2="385.9" y2="586.4000000000001" stroke="#000" stroke-width="1.0"/>
<line x1="384.0" y1="606.2" x2="385.9" y2="606.2" stroke="#000" stroke-width="1.0"/>
<line x1="384.0" y1="626.0" x2="385.9" y2="626.0" stroke="#000" stroke-width="1.0"/>
<line x1="385.9" y1="556.7" x2="581.5" y2="556.7" stroke="#000" stroke-width="1.4"/>
<rect x="398.10" y="556.7" width="24.30" height="15.10" fill="#fff" stroke="#000" stroke-width="1.5"/>
<line x1="410.15" y1="562.0" x2="410.15" y2="581.3" stroke="#000" stroke-width="1.4"/>
<line x1="408.34999999999997" y1="562.0" x2="411.95" y2="562.0" stroke="#000" stroke-width="1.4"/>
<line x1="408.34999999999997" y1="581.3" x2="411.95" y2="581.3" stroke="#000" stroke-width="1.4"/>
<rect x="447.10" y="510.5" width="24.20" height="46.20" fill="url(#h1)" stroke="#000" stroke-width="1.5"/>
<line x1="459.15" y1="496.3" x2="459.15" y2="524.5" stroke="#000" stroke-width="1.4"/>
<line x1="457.34999999999997" y1="496.3" x2="460.95" y2="496.3" stroke="#000" stroke-width="1.4"/>
<line x1="457.34999999999997" y1="524.5" x2="460.95" y2="524.5" stroke="#000" stroke-width="1.4"/>
<rect x="495.60" y="546.3" width="24.50" height="10.40" fill="#8e8e8e" stroke="#000" stroke-width="1.5"/>
<rect x="496.65" y="547.35" width="22.40" height="8.30" fill="none" stroke="#ececec" stroke-width="0.75"/>
<line x1="507.85" y1="539.5" x2="507.85" y2="553.0" stroke="#000" stroke-width="1.4"/>
<line x1="506.05" y1="539.5" x2="509.65000000000003" y2="539.5" stroke="#000" stroke-width="1.4"/>
<line x1="506.05" y1="553.0" x2="509.65000000000003" y2="553.0" stroke="#000" stroke-width="1.4"/>
<rect x="544.60" y="552.2" width="24.70" height="4.50" fill="url(#h3)" stroke="#000" stroke-width="1.5"/>
<line x1="556.85" y1="547.6" x2="556.85" y2="552.0" stroke="#000" stroke-width="1.4"/>
<line x1="555.0500000000001" y1="547.6" x2="558.65" y2="547.6" stroke="#000" stroke-width="1.4"/>
<text x="459.1" y="493.9" font-size="10.2" text-anchor="middle" font-family="Liberation Sans, Arial, sans-serif" font-weight="bold" stroke="#000" stroke-linejoin="round"  stroke-width="1.0">***</text>
<text x="557.3" y="544.0" font-size="8.5" text-anchor="middle" font-family="Liberation Sans, Arial, sans-serif" font-weight="bold" stroke="#000" stroke-linejoin="round"  stroke-width="0.9">+</text>
<text x="410.0" y="593.9" font-size="8.15" text-anchor="middle" font-family="Liberation Sans, Arial, sans-serif" font-weight="bold" stroke="#000" stroke-linejoin="round" textLength="17.5" lengthAdjust="spacingAndGlyphs"  stroke-width="0.48">SHR</text>
<text x="461.3" y="593.9" font-size="8.15" text-anchor="middle" font-family="Liberation Sans, Arial, sans-serif" font-weight="bold" stroke="#000" stroke-linejoin="round" textLength="39.75" lengthAdjust="spacingAndGlyphs"  stroke-width="0.48">SHR+MLN</text>
<text x="509.9" y="593.9" font-size="8.15" text-anchor="middle" font-family="Liberation Sans, Arial, sans-serif" font-weight="bold" stroke="#000" stroke-linejoin="round" textLength="43.75" lengthAdjust="spacingAndGlyphs"  stroke-width="0.48">SHR+ZOFE</text>
<text x="570.1" y="593.9" font-size="8.15" text-anchor="middle" font-family="Liberation Sans, Arial, sans-serif" font-weight="bold" stroke="#000" stroke-linejoin="round" textLength="66" lengthAdjust="spacingAndGlyphs"  stroke-width="0.48">SHR+MLN+ZOFE</text>
<text transform="translate(367.2,556.5) rotate(-90)" x="0" y="0" font-size="10.2" text-anchor="middle" font-family="Liberation Sans, Arial, sans-serif" font-weight="bold" stroke="#000" stroke-linejoin="round" stroke-width="0.38" textLength="77.7" lengthAdjust="spacingAndGlyphs">Δ MAP (mm Hg)</text>
<text x="482.7" y="656.2" font-size="12.5" text-anchor="middle" font-family="Liberation Serif, Times New Roman, serif" font-weight="bold" stroke="#000" stroke-width="0.1" >(f)</text>
</g>
</svg>
</body></html>
